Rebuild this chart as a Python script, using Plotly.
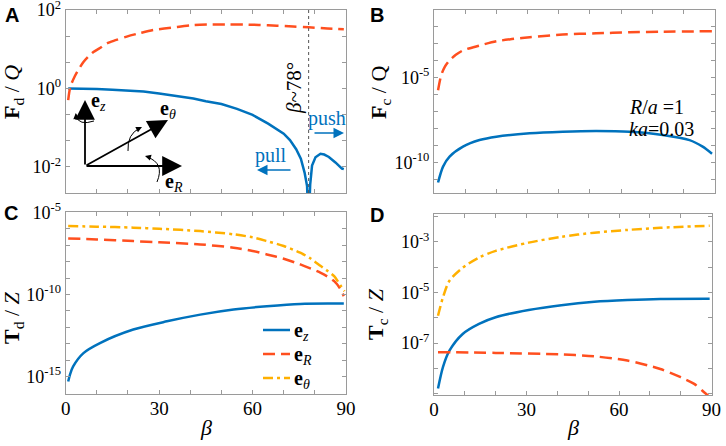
import plotly.graph_objects as go

W, H = 726, 446
FONT = "Liberation Serif, Times New Roman, serif"
SANS = "Liberation Sans, Arial, sans-serif"
BLUE = "#0072BD"
RED = "#FF4F1F"
ORANGE = "#FFB000"
FRAME = "#9a9a9a"

# ---- panel A: F_d / Q
a_beta_z = [0.8, 5, 10, 15, 20, 25, 30, 35, 41, 45, 50, 55, 60, 65, 70, 72, 74,
            75.5, 76.7, 77.5, 78, 78.5, 79.1, 80.2, 81.8, 83, 84.5, 86.6, 88.7, 89.3]
a_z = [1.0, 0.995, 0.966, 0.93, 0.89, 0.83, 0.74, 0.65, 0.55, 0.47, 0.40, 0.30,
       0.21, 0.126, 0.07, 0.048, 0.028, 0.016, 0.0071, 0.0032, 0.0003, 0.0035,
       0.0107, 0.0174, 0.0214, 0.0205, 0.0178, 0.0129, 0.0090, 0.0087]
a_beta_r = [0.8, 1.5, 3, 4.3, 5.7, 7.3, 8.9, 11, 13.2, 16, 19.6, 24, 28.2, 35.7,
            41, 46.4, 52, 57.1, 62, 67.8, 73, 78, 84, 89.3]
a_r = [0.5, 1.1, 2.1, 3.2, 4.7, 6.5, 8.5, 10.7, 14.1, 17.0, 21, 26, 31, 37, 41,
       42.7, 43, 42.7, 41.7, 39.8, 38, 36.3, 34, 32.4]

# ---- panel B: F_c / Q
b_beta_r = [1.3, 2.3, 3.5, 5, 7, 9.3, 14.6, 20, 25, 30.7, 41.3, 52, 62.7, 73.4, 89.4]
b_r = [1.78e-6, 1.38e-5, 4.5e-5, 1.05e-4, 2.24e-4, 4.07e-4, 7.9e-4, 1.41e-3,
       1.9e-3, 2.45e-3, 3.55e-3, 4.17e-3, 4.79e-3, 5.25e-3, 5.5e-3]
b_beta_z = [1.3, 2.9, 5, 9.3, 14.6, 20, 30.7, 41.3, 52, 62.7, 73.4, 82, 86.2, 89.2]
b_z = [6.3e-12, 5.5e-11, 2.14e-10, 8.3e-10, 2.04e-9, 3.24e-9, 5.1e-9, 6.3e-9,
       6.9e-9, 6.3e-9, 4.1e-9, 2.04e-9, 8.3e-10, 3.2e-10]

# ---- panel C: T_d / Z
c_beta_z = [0.8, 1.5, 2.4, 5.7, 11, 21.7, 32.5, 43.2, 53.9, 64.6, 75.3, 89.3]
c_z = [5.1e-16, 1.6e-15, 4.3e-15, 2.75e-14, 1.12e-13, 7.4e-13, 2.34e-12, 6.0e-12,
       1.23e-11, 1.95e-11, 2.7e-11, 2.8e-11]
c_beta_r = [0.8, 10, 21.7, 30, 43.2, 53.9, 60, 64.6, 70, 75.3, 81.9, 84, 86.2, 88, 89.3]
c_r = [2.57e-7, 2.24e-7, 1.78e-7, 1.51e-7, 1.12e-7, 7.1e-8, 4.5e-8, 2.75e-8,
       1.51e-8, 6.8e-9, 2.1e-9, 1.26e-9, 6.5e-10, 2.5e-10, 8e-11]
c_beta_t = [0.8, 10, 21.7, 30, 43.2, 53.9, 60, 64.6, 70, 75.3, 78.5, 81.9, 84, 86.2, 88.4, 89.5]
c_t = [1.45e-6, 1.35e-6, 1.17e-6, 1.0e-6, 7.2e-7, 4.6e-7, 3.0e-7, 1.78e-7, 8.9e-8,
       3.5e-8, 1.6e-8, 5.4e-9, 2.8e-9, 1.3e-9, 3.2e-10, 1.6e-10]

# ---- panel D: T_c / Z
d_beta = [1.3, 2.9, 5, 9.3, 14.6, 20, 30.7, 41.3, 52, 62.7, 73.4, 89.4]
d_t = [1.2e-6, 6.3e-6, 2.9e-5, 9.5e-5, 2.4e-4, 4.4e-4, 9.3e-4, 1.58e-3, 2.3e-3,
       2.95e-3, 3.6e-3, 4.3e-3]
d_z = [1.6e-9, 1.12e-8, 5.0e-8, 2.3e-7, 5.75e-7, 1.05e-6, 2.04e-6, 3.16e-6,
       4.27e-6, 5.0e-6, 5.5e-6, 5.6e-6]
d_beta_r = [1.3, 20, 41.3, 52, 62.7, 73.4, 80, 84.4, 87.6, 89.4]
d_r = [4.4e-8, 4.1e-8, 3.55e-8, 3.0e-8, 2.04e-8, 9.5e-9, 4.5e-9, 2.45e-9, 1.15e-9, 7.4e-10]

x_ticks = list(range(0, 91, 10))
x_labels = ["0", "", "", "30", "", "", "60", "", "", "90"]
legend_names = ["<b>e</b><sub><i>z</i></sub>", "<b>e</b><sub><i>R</i></sub>",
                "<b>e</b><sub><i>θ</i></sub>"]


def px(x):
    return x / W


def py(y):
    return 1 - y / H


fig = go.Figure()


def line(x, y, color, dash, xa, ya, shape="spline"):
    fig.add_trace(go.Scatter(
        x=x, y=y, mode="lines", showlegend=False,
        line=dict(color=color, width=2.5, dash=dash, shape=shape, smoothing=0.8),
        xaxis=xa, yaxis=ya, hoverinfo="skip"))


DASH = "12px,6px"
DASHDOT = "10px,4px,3px,4px"

line(a_beta_z, a_z, BLUE, "solid", "x", "y", shape="linear")
line(a_beta_r, a_r, RED, DASH, "x", "y")
line(b_beta_r, b_r, RED, DASH, "x2", "y2")
line(b_beta_z, b_z, BLUE, "solid", "x2", "y2")
line(c_beta_z, c_z, BLUE, "solid", "x3", "y3")
line(c_beta_r, c_r, RED, DASH, "x3", "y3")
line(c_beta_t, c_t, ORANGE, DASHDOT, "x3", "y3")
line(d_beta, d_t, ORANGE, DASHDOT, "x4", "y4")
line(d_beta, d_z, BLUE, "solid", "x4", "y4")
line(d_beta_r, d_r, RED, DASH, "x4", "y4")

axis_common = dict(showline=True, linecolor=FRAME, linewidth=1, mirror="allticks",
                   ticks="inside", ticklen=4, tickcolor=FRAME, showgrid=False,
                   zeroline=False, automargin=False, ticklabeloverflow="allow",
                   tickfont=dict(family=FONT, size=18, color="black"))


def sup(e):
    return "10<sup>%d</sup>" % e


def ylog(rng, dom, vals, labeled, anchor):
    return dict(axis_common, type="log", range=rng, domain=dom, anchor=anchor,
                tickvals=[10 ** v for v in vals],
                ticktext=[sup(round(v)) if any(abs(v - l) < 1e-6 for l in labeled) else "" for v in vals])


def xlin(dom, anchor, labels):
    d = dict(axis_common, domain=dom, anchor=anchor, range=[0, 90], tickvals=x_ticks)
    if labels:
        d.update(ticktext=x_labels, tickfont=dict(family=FONT, size=19, color="black"),
                 ticklabelstandoff=-3)
    else:
        d.update(showticklabels=False)
    return d


xA = [px(65.7), px(346)]
xB = [px(434), px(714.5)]
xD = [px(434), px(711.5)]
yA = [py(193), py(10)]
yC = [py(394), py(212)]
yD = [py(395), py(214)]

a_ticks = [2 - 2 * k / 3 for k in range(8)]

fig.update_layout(
    width=W, height=H, margin=dict(l=0, r=0, t=0, b=0, pad=0, autoexpand=False),
    paper_bgcolor="white", plot_bgcolor="white",
    font=dict(family=FONT, color="black"),
    showlegend=False,
    xaxis=xlin(xA, "y", False),
    yaxis=ylog([-2.67, 2.001], yA, a_ticks, [2, 0, -2], "x"),
    xaxis2=xlin(xB, "y2", False),
    yaxis2=ylog([-11.82, -1.0], yA, list(range(-1, -12, -1)), [-5, -10], "x2"),
    xaxis3=xlin(xA, "y3", True),
    yaxis3=ylog([-16.05, -4.98], yC, list(range(-5, -17, -1)), [-5, -10, -15], "x3"),
    xaxis4=xlin(xD, "y4", True),
    yaxis4=ylog([-9.05, -1.9], yD, list(range(-2, -10, -1)), [-3, -5, -7], "x4"),
)

ann = []
shapes = []


def text(x, y, s, size=20, angle=0, color="black", family=FONT, xanchor="center"):
    ann.append(dict(x=px(x), y=py(y), xref="paper", yref="paper", text=s, showarrow=False,
                    textangle=angle, xanchor=xanchor, yanchor="middle", borderpad=0,
                    font=dict(family=family, size=size, color=color)))


# panel letters
for lx, ly, s in [(12, 15, "A"), (377, 15, "B"), (11, 213, "C"), (377, 215, "D")]:
    text(lx, ly, "<b>%s</b>" % s, size=20, family=SANS)

# axis titles
text(13, 92, "<b>F</b><sub>d</sub> / <i>Q</i>", size=22, angle=-90)
text(380, 92, "<b>F</b><sub>c</sub> / Q", size=22, angle=-90)
text(13, 318, "<b>T</b><sub>d</sub> / <i>Z</i>", size=22, angle=-90)
text(377, 314, "<b>T</b><sub>c</sub> / <i>Z</i>", size=22, angle=-90)
text(206, 427, "<i>β</i>", size=22)
text(573, 427, "<i>β</i>", size=22)

# panel B parameters
text(628, 107, "<i>R</i>/<i>a</i> =1", size=20, xanchor="left")
text(628, 129, "<i>ka</i>=0.03", size=20, xanchor="left")

# panel A notes
text(294, 88, "<i>β</i>~78°", size=21, angle=-90)
text(327, 118, "push", size=20, color=BLUE)
text(271, 155, "pull", size=20, color=BLUE)


def arrow(x0, y0, x1, y1, color, width, size, head=2):
    ann.append(dict(x=px(x1), y=py(y1), xref="paper", yref="paper", ax=x0 - x1, ay=y0 - y1,
                    axref="pixel", ayref="pixel", showarrow=True, arrowhead=head,
                    arrowsize=size, arrowwidth=width, arrowcolor=color, text=""))


arrow(313, 133, 344, 133, BLUE, 1.5, 1.4)
arrow(292, 170, 257, 170, BLUE, 1.5, 1.4)

# coordinate inset
arrow(85, 166, 85, 100, "black", 1.8, 2.2)
arrow(85, 166, 182, 166, "black", 1.8, 2.2)
arrow(85, 166, 168, 120, "black", 1.8, 2.2)
text(98, 101, "<b>e</b><sub><i>z</i></sub>", size=20)
text(168, 109, "<b>e</b><sub><i>θ</i></sub>", size=20)
text(174, 183, "<b>e</b><sub><i>R</i></sub>", size=20)


def arc(p0, c, p1):
    path = "M %f %f Q %f %f %f %f" % (px(p0[0]), py(p0[1]), px(c[0]), py(c[1]), px(p1[0]), py(p1[1]))
    shapes.append(dict(type="path", path=path, xref="paper", yref="paper",
                       line=dict(color="black", width=1)))


arc((76, 116), (79, 126), (94, 121))
arrow(76.3, 119, 75.8, 113, "black", 1, 1.2)
arc((128, 151), (127, 134), (140, 128))
arrow(137, 129.5, 142, 127, "black", 1, 1.2)
arc((147, 157), (165, 163), (157, 182))
arrow(150, 157.5, 145, 156, "black", 1, 1.2)

shapes.append(dict(type="line", xref="x", yref="y domain", x0=78, x1=78, y0=0, y1=1,
                   line=dict(color="#555", width=1, dash="dot")))

# legend drawn inside panel C
for i, (name, color, dash) in enumerate(zip(legend_names, [BLUE, RED, ORANGE],
                                            ["solid", DASH, DASHDOT])):
    ly = 330 + 24 * i
    shapes.append(dict(type="line", xref="paper", yref="paper", x0=px(263), x1=px(290),
                       y0=py(ly), y1=py(ly), line=dict(color=color, width=2.5, dash=dash)))
    text(293, ly + 1, name, size=20, xanchor="left")

fig.update_layout(annotations=ann, shapes=shapes)
# the page body has a default 8px margin; drop it so the figure sits at the window origin
fig.write_html("out.html", config={"displayModeBar": False},
               post_script="document.body.style.margin='0px';")
